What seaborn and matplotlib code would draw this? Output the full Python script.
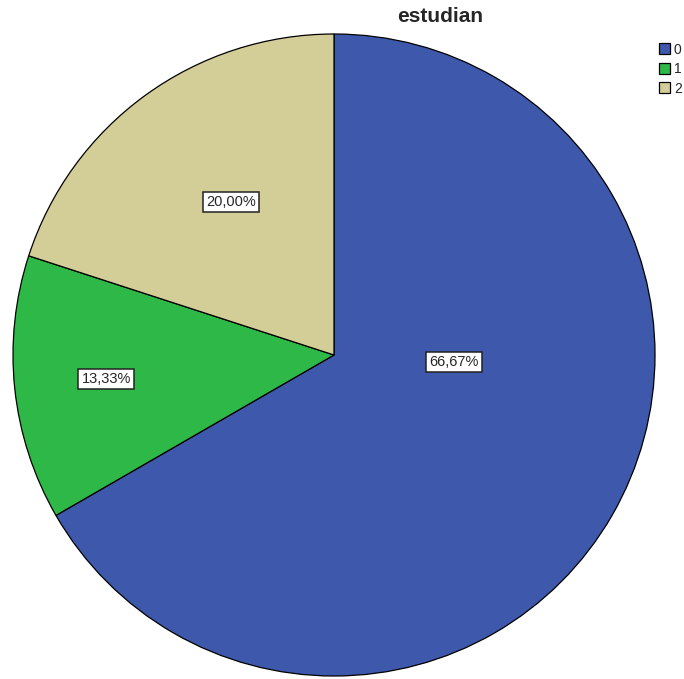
import matplotlib
matplotlib.use("Agg")
import matplotlib.pyplot as plt
import seaborn as sns

categories = ["0", "1", "2"]
percentages = [66.67, 13.33, 20.00]
colors = ["#3e58ac", "#2eb848", "#d3ce98"]
# label anchor points (in pie radius units)
label_pos = [(0.374, -0.022), (-0.71, -0.075), (-0.32, 0.477)]

sns.set_theme(style="white")
plt.rcParams["font.family"] = ["Liberation Sans", "DejaVu Sans"]

fig = plt.figure(figsize=(6.84, 6.79), dpi=100)
ax = fig.add_axes([13 / 684, 3 / 679, 642 / 684, 642 / 679])

wedges, _ = ax.pie(
    percentages,
    colors=colors,
    startangle=90,
    counterclock=False,
    wedgeprops=dict(edgecolor="black", linewidth=0.9),
)
ax.set_xlim(-1.0, 1.0)
ax.set_ylim(-1.0, 1.0)

for pct, (x, y) in zip(percentages, label_pos):
    ax.text(x, y, f"{pct:.2f}%".replace(".", ","), ha="center", va="center",
            fontsize=10.5,
            bbox=dict(boxstyle="square,pad=0.2", facecolor="white",
                      edgecolor="#222222", linewidth=1.1))

fig.text(440 / 684, 1 - 16 / 679, "estudian", ha="center", va="center",
         fontsize=15, fontweight="bold")

fig.legend(wedges, categories, loc="upper left",
           bbox_to_anchor=(653 / 684, 1 - 37 / 679), frameon=False,
           fontsize=10, handlelength=0.85, handleheight=0.85,
           handletextpad=0.25, labelspacing=0.4, borderaxespad=0)

fig.savefig("out.png", dpi=100, facecolor="white")
